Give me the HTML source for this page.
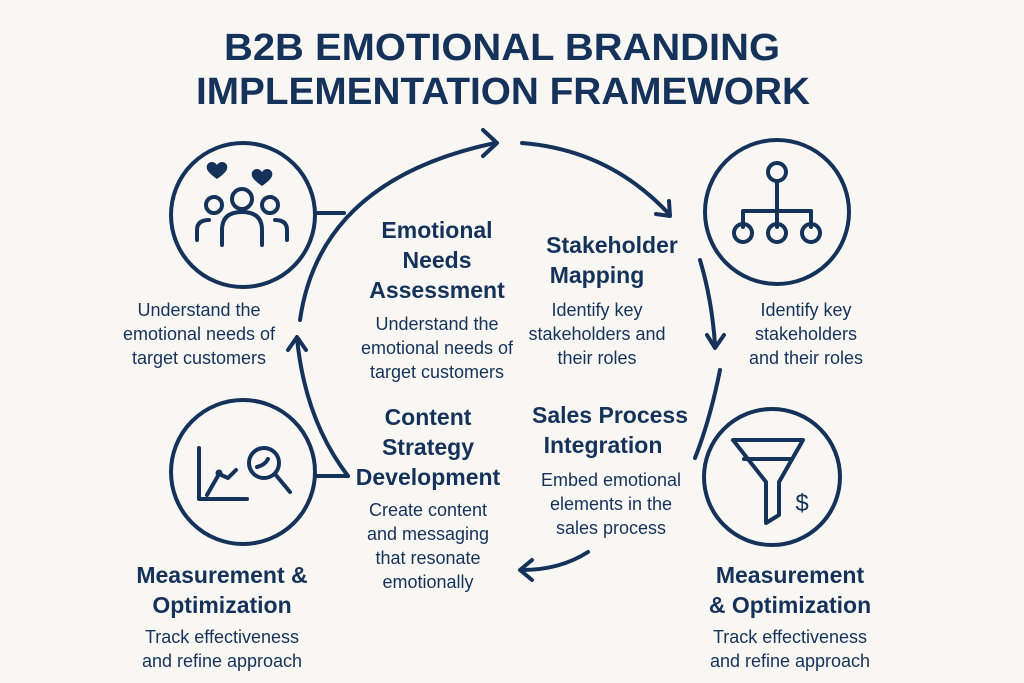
<!DOCTYPE html>
<html><head><meta charset="utf-8"><style>
html,body{margin:0;padding:0;background:#f8f7f3;}
svg{display:block}
text{font-family:"Liberation Sans",sans-serif;fill:#15325a;}
.h{font-size:23px;font-weight:bold;text-anchor:middle}
.b{font-size:18px;text-anchor:middle}
</style></head><body>
<svg width="1024" height="683" viewBox="0 0 1024 683">
<rect width="1024" height="683" fill="#f8f7f3"/>
<text x="224" y="60" font-size="38" font-weight="bold" textLength="556" lengthAdjust="spacingAndGlyphs">B2B EMOTIONAL BRANDING</text>
<text x="196" y="104" font-size="38" font-weight="bold" textLength="614" lengthAdjust="spacingAndGlyphs">IMPLEMENTATION FRAMEWORK</text>

<g fill="none" stroke="#15325a" stroke-width="4" stroke-linecap="round" stroke-linejoin="round">
<circle cx="243" cy="215" r="72"/>
<circle cx="777" cy="212" r="72"/>
<circle cx="243" cy="472" r="72"/>
<circle cx="772" cy="477" r="68"/>
<line x1="315" y1="213" x2="344" y2="213"/>
<path d="M300 320 Q 320 180 495 143"/>
<path d="M483 130 L497 143 L483 156"/>
<line x1="315" y1="476" x2="348" y2="476"/>
<path d="M348 476 Q 305 420 297 338"/>
<path d="M288 350 L297 337 L306 350"/>
<path d="M522 143 Q 610 150 670 215"/>
<path d="M656 214 L670 216 L669 201"/>
<path d="M700 260 Q 712 300 715 345"/>
<path d="M707 335 L715 348 L724 335"/>
<path d="M720 370 Q 710 420 695 458"/>
<path d="M588 552 Q 560 570 522 570"/>
<path d="M532 560 L520 570 L532 580"/>
<circle cx="214" cy="205" r="8"/><circle cx="242" cy="199" r="10"/><circle cx="270" cy="205" r="8"/>
<path d="M197 240 v-10 q0-10 12-10 M287 240 v-10 q0-10 -12-10"/>
<path d="M222 245 v-15 q0-18 20-18 q20 0 20 18 v15"/>
<circle cx="777" cy="172" r="9"/>
<line x1="777" y1="181" x2="777" y2="227"/>
<path d="M743 227 v-16 h68 v16"/>
<circle cx="743" cy="233" r="9"/><circle cx="777" cy="233" r="9"/><circle cx="811" cy="233" r="9"/>
<path d="M199 448 v51 h48"/>
<path d="M207 495 L219 474 L228 478 L236 470"/>
<circle cx="264" cy="463" r="15"/>
<line x1="275" y1="474" x2="290" y2="492"/>
<path d="M257 467 q8 -2 11-8"/>
<path d="M733 440 h70 l-24 42 v33 l-13 8 v-41 z"/>
<line x1="744" y1="459" x2="792" y2="459"/>
</g>
<circle cx="219" cy="473" r="3.5" fill="#15325a"/>
<path d="M217 165 c-4-6-12-2-10 4 c1 4 10 10 10 10 c0 0 9-6 10-10 c2-6-6-10-10-4z" fill="#15325a"/>
<path d="M262 172 c-4-6-12-2-10 4 c1 4 10 10 10 10 c0 0 9-6 10-10 c2-6-6-10-10-4z" fill="#15325a"/>
<text x="802" y="511" font-size="24" style="text-anchor:middle">$</text>

<text class="h" x="437" y="238">Emotional</text>
<text class="h" x="437" y="268">Needs</text>
<text class="h" x="437" y="298">Assessment</text>
<text class="b" x="437" y="330">Understand the</text>
<text class="b" x="437" y="354">emotional needs of</text>
<text class="b" x="437" y="378">target customers</text>

<text class="h" x="612" y="253">Stakeholder</text>
<text class="h" x="597" y="283">Mapping</text>
<text class="b" x="597" y="316">Identify key</text>
<text class="b" x="597" y="340">stakeholders and</text>
<text class="b" x="597" y="364">their roles</text>

<text class="b" x="199" y="316">Understand the</text>
<text class="b" x="199" y="340">emotional needs of</text>
<text class="b" x="199" y="364">target customers</text>

<text class="b" x="806" y="316">Identify key</text>
<text class="b" x="806" y="340">stakeholders</text>
<text class="b" x="806" y="364">and their roles</text>

<text class="h" x="428" y="425">Content</text>
<text class="h" x="428" y="455">Strategy</text>
<text class="h" x="428" y="485">Development</text>
<text class="b" x="428" y="516">Create content</text>
<text class="b" x="428" y="540">and messaging</text>
<text class="b" x="428" y="564">that resonate</text>
<text class="b" x="428" y="588">emotionally</text>

<text class="h" x="610" y="423">Sales Process</text>
<text class="h" x="603" y="453">Integration</text>
<text class="b" x="611" y="486">Embed emotional</text>
<text class="b" x="611" y="510">elements in the</text>
<text class="b" x="611" y="534">sales process</text>

<text class="h" x="222" y="583">Measurement &amp;</text>
<text class="h" x="222" y="613">Optimization</text>
<text class="b" x="222" y="643">Track effectiveness</text>
<text class="b" x="222" y="667">and refine approach</text>

<text class="h" x="790" y="583">Measurement</text>
<text class="h" x="790" y="613">&amp; Optimization</text>
<text class="b" x="790" y="643">Track effectiveness</text>
<text class="b" x="790" y="667">and refine approach</text>
</svg>
</body></html>
